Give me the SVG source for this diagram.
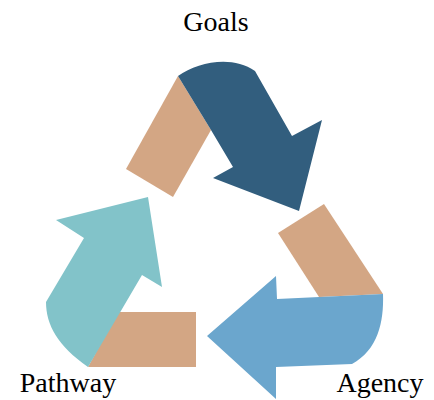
<svg xmlns="http://www.w3.org/2000/svg" width="434" height="400" viewBox="0 0 434 400">
<style>
.tan{fill:#D3A684}
.goals{fill:#325E7E}
.agency{fill:#6BA6CD}
.pathway{fill:#82C3C9}
text{font-family:"Liberation Serif","Times New Roman",serif;font-size:28px;fill:#000}
</style>
<rect width="434" height="400" fill="#fff"/>
<g id="connectors">
<polygon class="tan" points="178,76 211,130 173,197 126,169"/>
<polygon class="tan" points="278,233 324,204 383,294 319,297"/>
<polygon class="tan" points="118,312 196,312 196,367 88,367"/>
</g>
<g id="goals">
<path class="goals" d="M178,76 C198,62 232,55 255,71 L292,136 L322,120 L299,211 L213,178 L233,167 L211,130 Z"/>
<text x="216" y="31" text-anchor="middle">Goals</text>
</g>
<g id="agency">
<path class="agency" d="M383,294 C384,322 378,350 352,364 L276,367 L276,399 L207,336 L276,276 L277,299 Z"/>
<text x="380" y="392" text-anchor="middle">Agency</text>
</g>
<g id="pathway">
<path class="pathway" d="M148,197 L162,287 L142,275 L88,367 C58,346 46,325 46,302 L84,238 L56,220 Z"/>
<text x="68" y="392" text-anchor="middle">Pathway</text>
</g>
</svg>
